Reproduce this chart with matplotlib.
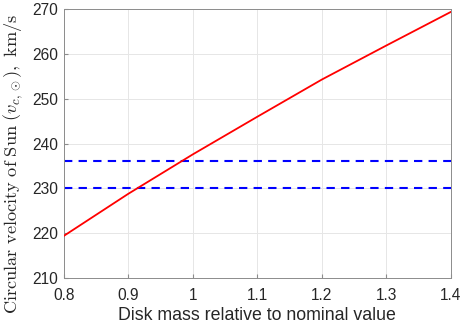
import numpy as np
import matplotlib.pyplot as plt

plt.rcParams['mathtext.fontset'] = 'cm'

# data
disk_mass = [0.8, 0.9, 1.0, 1.1, 1.2, 1.3, 1.4]
v_circ = [219.4, 228.8, 237.6, 246.0, 254.3, 261.9, 269.4]
v_bounds = [230, 236]

xticks = [0.8, 0.9, 1.0, 1.1, 1.2, 1.3, 1.4]
xticklabels = ['0.8', '0.9', '1', '1.1', '1.2', '1.3', '1.4']
yticks = [210, 220, 230, 240, 250, 260, 270]

fig = plt.figure(figsize=(4.63, 3.27), dpi=100)
ax = fig.add_axes([0.138, 0.150, 0.836, 0.822])

ax.plot(disk_mass, v_circ, color='red', lw=1.3, zorder=3)
for v in v_bounds:
    ax.axhline(v, color='blue', lw=1.5, ls=(0, (4, 3)), zorder=2)

ax.set_xlim(0.8, 1.4)
ax.set_ylim(210, 270)
ax.set_xticks(xticks)
ax.set_xticklabels(xticklabels)
ax.set_yticks(yticks)
ax.grid(True, color='#e6e6e6', lw=0.7)
ax.set_axisbelow(True)

for s in ax.spines.values():
    s.set_color('#8c8c8c')
    s.set_linewidth(0.7)
ax.tick_params(direction='in', length=3, color='#8c8c8c', labelcolor='#262626',
               labelsize=11.2, top=False, right=False)
ax.tick_params(axis='x', pad=7)
ax.tick_params(axis='y', pad=4)
for lab in ax.get_xticklabels() + ax.get_yticklabels():
    lab.set_family('Liberation Sans')

ax.set_xlabel('Disk mass relative to nominal value', fontsize=12.8,
              family='Liberation Sans', color='#262626', labelpad=3)
# y label sits a bit below the axes centre in the original
fig.text(13 / 463, 1 - 164 / 327,
         r'$\mathrm{Circular\ velocity\ of\ Sun\ }(v_{c,\odot}),\ \mathrm{km/s}$',
         rotation=90, ha='center', va='center', fontsize=13.2, color='#262626')

fig.savefig('out.png', dpi=100)
